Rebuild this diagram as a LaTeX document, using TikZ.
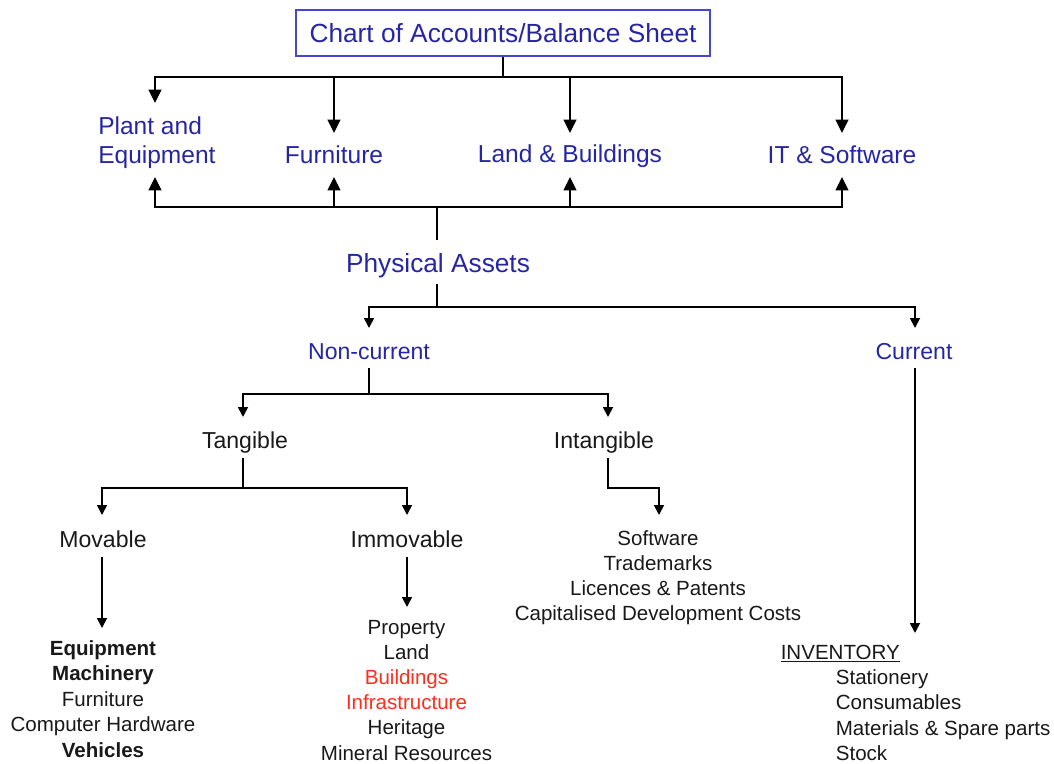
\documentclass[tikz,border=0pt]{standalone}
\usepackage{fontspec}
\setmainfont{Liberation Sans}
\usetikzlibrary{arrows.meta}
\definecolor{myblue}{RGB}{38,38,165}
\definecolor{boxblue}{RGB}{70,70,215}
\definecolor{myred}{RGB}{255,45,30}
\definecolor{ink}{RGB}{25,25,25}
\begin{document}
\begin{tikzpicture}[x=0.75pt,y=-0.75pt,
  big/.style={font=\fontsize{19.7}{24}\selectfont, text=myblue, inner sep=0pt},
  comic/.style={font=\fontsize{18.4}{22}\selectfont, text=myblue, inner sep=0pt},
  mid/.style={font=\fontsize{17.3}{21}\selectfont, text=ink, inner sep=0pt, anchor=base},
  lst/.style={font=\fontsize{15.4}{19}\selectfont, text=ink, inner sep=0pt, anchor=base},
  upl/.style={line width=1.5pt},
  upa/.style={line width=1.5pt, -{Triangle[width=9.5pt,length=10pt]}},
  lol/.style={line width=1.3pt},
  loa/.style={line width=1.3pt, -{Triangle[width=7.5pt,length=7.5pt]}}
]
\useasboundingbox (0,0) rectangle (1054,764);
\fill[white] (0,0) rectangle (1054,764);

% ---------- title ----------
\node[draw=boxblue, line width=1.3pt, minimum width=310.5pt, minimum height=34.5pt,
      font=\fontsize{19.7}{24}\selectfont, text=myblue, inner sep=0pt] (title) at (503,33)
      {Chart of Accounts/Balance Sheet};

% ---------- upper labels ----------
\node[comic, anchor=base west] (plantA) at (98,134.8) {Plant and};
\node[comic, anchor=base west] (plantB) at (98,163.8) {Equipment};
\node[comic, anchor=base] (furn) at (334,163.8) {Furniture};
\node[comic, anchor=base] (land) at (570,162.8) {Land \& Buildings};
\node[comic, anchor=base] (it) at (842,163.8) {IT \& Software};

% ---------- physical assets ----------
\node[big, anchor=base] (pa) at (438,272.4) {Physical Assets};

% arrow end points (upper)
\coordinate (j1) at (503,77);
\coordinate (dPlant) at (155,103);
\coordinate (dFurn) at (334,133);
\coordinate (dLand) at (570,133);
\coordinate (dIT) at (842,133);
\coordinate (j2) at (437,207);
\coordinate (uPlant) at (155,177);
\coordinate (uFurn) at (334,177);
\coordinate (uLand) at (570,177);
\coordinate (uIT) at (842,177);
\coordinate (paT) at (437,240);
\coordinate (paB) at (437,284);

\draw[upl] (title.south) -- (j1);
\draw[upa] (j1) -| (dPlant);
\draw[upa] (j1) -| (dFurn);
\draw[upa] (j1) -| (dLand);
\draw[upa] (j1) -| (dIT);
\draw[upl] (paT) -- (j2);
\draw[upa] (j2) -| (uPlant);
\draw[upa] (j2) -| (uFurn);
\draw[upa] (j2) -| (uLand);
\draw[upa] (j2) -| (uIT);

% ---------- second level ----------
\node[mid, text=myblue] (nc) at (369,359) {Non-current};
\node[mid, text=myblue] (cur) at (914,359) {Current};
\node[mid] (tang) at (245,448.3) {Tangible};
\node[mid] (intang) at (604,448.3) {Intangible};
\node[mid] (mov) at (103,547.3) {Movable};
\node[mid] (imm) at (407,547.3) {Immovable};

\coordinate (j3) at (437,307);
\coordinate (aNc) at (369,328);
\coordinate (aCur) at (915,328);
\coordinate (ncB) at (369,368);
\coordinate (j4) at (369,394);
\coordinate (aTang) at (243,417);
\coordinate (aInt) at (608,417);
\coordinate (tgB) at (243,458);
\coordinate (j5) at (243,488);
\coordinate (aMov) at (102,515);
\coordinate (aImm) at (407,515);
\coordinate (itB) at (608,458);
\coordinate (j6) at (659,488);
\coordinate (aSoft) at (659,515);
\coordinate (mvB) at (102,557);
\coordinate (aMvL) at (102,628);
\coordinate (imB) at (407,557);
\coordinate (aImL) at (407,607);
\coordinate (cuB) at (915,368);
\coordinate (aInv) at (915,633);

\draw[lol] (paB) -- (j3);
\draw[loa] (j3) -| (aNc);
\draw[loa] (j3) -| (aCur);
\draw[lol] (ncB) -- (j4);
\draw[loa] (j4) -| (aTang);
\draw[loa] (j4) -| (aInt);
\draw[lol] (tgB) -- (j5);
\draw[loa] (j5) -| (aMov);
\draw[loa] (j5) -| (aImm);
\draw[loa] (itB) |- (j6) -- (aSoft);
\draw[loa] (mvB) -- (aMvL);
\draw[loa] (imB) -- (aImL);
\draw[loa] (cuB) -- (aInv);

% ---------- lists ----------
\foreach \t/\y [count=\i] in {\textbf{Equipment}/655, \textbf{Machinery}/680.5, Furniture/706, Computer Hardware/731.5, \textbf{Vehicles}/757}
  \node[lst] (mv\i) at (103,\y) {\t};
\foreach \t/\y [count=\i] in {Property/634, Land/659.2, \textcolor{myred}{Buildings}/684.4, \textcolor{myred}{Infrastructure}/709.6, Heritage/734.8, Mineral Resources/760}
  \node[lst] (im\i) at (406.5,\y) {\t};
\foreach \t/\y [count=\i] in {Software/545, Trademarks/570, Licences \& Patents/595, Capitalised Development Costs/620}
  \node[lst] (in\i) at (658,\y) {\t};
\node[lst, anchor=base west] (inv) at (780.5,659) {\underline{INVENTORY}};
\foreach \t/\y [count=\i] in {Stationery/684.5, Consumables/709.8, Materials \& Spare parts/735.1, Stock/760.4}
  \node[lst, anchor=base west] (cu\i) at (835.6,\y) {\t};
\end{tikzpicture}
\end{document}
